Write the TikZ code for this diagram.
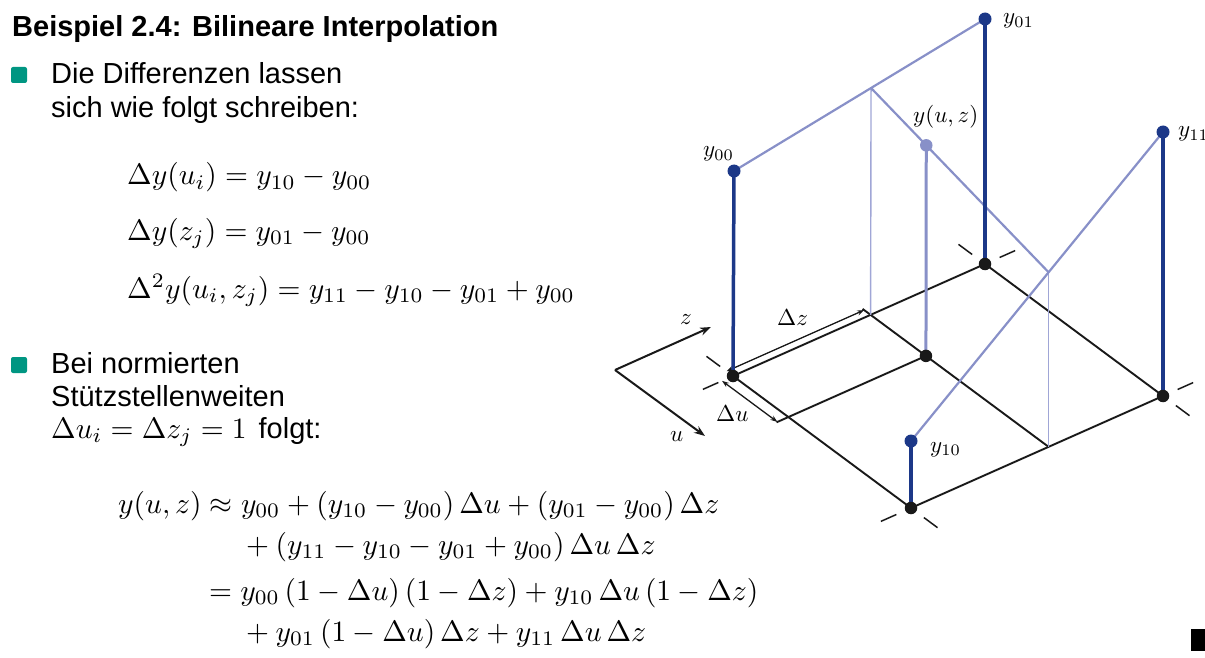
\documentclass[tikz,border=0pt]{standalone}
\usepackage{graphicx}
\usepackage[no-math]{fontspec}
\newfontfamily\arial{Liberation Sans}
\usetikzlibrary{arrows.meta,calc}
\definecolor{dkblue}{RGB}{28,56,136}
\definecolor{ltblue}{RGB}{136,144,200}
\definecolor{thinblue}{RGB}{160,166,214}
\definecolor{kitgreen}{RGB}{0,150,130}
\newcommand\bodyfs{\fontsize{29}{34}\selectfont}
\newcommand\eqmath[1]{{\fontsize{10}{12}\selectfont\scalebox{2.95}{$#1$}}}
\newcommand\lblmath[1]{{\fontsize{10}{12}\selectfont\scalebox{2.3}{$#1$}}}
\begin{document}
\begin{tikzpicture}[x=1pt,y=-1pt,
  txt/.style={inner sep=0pt, anchor=base west, font=\arial\bodyfs},
  ttl/.style={inner sep=0pt, anchor=base west, font=\arial\bfseries\bodyfs},
  eqn/.style={inner sep=0pt, anchor=base west},
  lbl/.style={inner sep=0pt, anchor=base west},
  bul/.style={fill=kitgreen, rounded corners=2pt, minimum size=16pt, inner sep=0pt},
  bdot/.style={circle, fill=dkblue, minimum size=13pt, inner sep=0pt},
  kdot/.style={circle, fill=black!90, minimum size=12.5pt, inner sep=0pt},
  ldot/.style={circle, fill=ltblue, minimum size=12.5pt, inner sep=0pt},
  grid/.style={line width=1.9pt, black!90},
  stem/.style={line width=3.5pt, dkblue},
  light/.style={line width=2.2pt, ltblue},
  thin/.style={line width=1.4pt, thinblue},
  yuzstem/.style={line width=3pt, ltblue},
  ext/.style={line width=1.5pt, black!90, dash pattern=on 5pt off 11pt on 17pt off 60pt},
  dim/.style={line width=1.3pt, black!90, {Stealth[length=7pt,width=5pt]}-{Stealth[length=7pt,width=5pt]}},
  axis/.style={line width=2pt, black!90, -{Stealth[length=11pt,width=8pt]}}
]
\useasboundingbox (0,0) rectangle (1205,658);

% ---------- text ----------
\node[ttl] (title) at (12,37) {Beispiel 2.4: Bilineare Interpolation};
\node[bul] (b1) at (19,75) {};
\node[txt] (t1a) at (51,84) {Die Differenzen lassen};
\node[txt] (t1b) at (51,118) {sich wie folgt schreiben:};
\node[eqn] (e1) at (127,185) {\eqmath{\Delta y(u_i) = y_{10} - y_{00}}};
\node[eqn] (e2) at (127,240) {\eqmath{\Delta y(z_j) = y_{01} - y_{00}}};
\node[eqn] (e3) at (127,298) {\eqmath{\Delta^2 y(u_i, z_j) = y_{11} - y_{10} - y_{01} + y_{00}}};
\node[bul] (b2) at (19,365) {};
\node[txt] (t2a) at (51,373) {Bei normierten};
\node[txt] (t2b) at (51,406) {Stützstellenweiten};
\node[txt] (t2c) at (51,438) {\eqmath{\Delta u_i = \Delta z_j = 1}\hspace{12pt}folgt:};
\node[eqn] (f1) at (118,513) {\eqmath{y(u,z) \approx y_{00} + (y_{10} - y_{00})\,\Delta u + (y_{01} - y_{00})\,\Delta z}};
\node[eqn] (f2) at (246,554) {\eqmath{+\:(y_{11} - y_{10} - y_{01} + y_{00})\,\Delta u\,\Delta z}};
\node[eqn] (f3) at (209,600) {\eqmath{= y_{00}\,(1-\Delta u)\,(1-\Delta z) + y_{10}\,\Delta u\,(1-\Delta z)}};
\node[eqn] (f4) at (246,641) {\eqmath{+\:y_{01}\,(1-\Delta u)\,\Delta z + y_{11}\,\Delta u\,\Delta z}};
\node[fill=black, minimum width=14pt, minimum height=22pt, inner sep=0pt] (endmark) at (1198,640) {};

% ---------- geometry ----------
\coordinate (P00) at (733,376);
\coordinate (P01) at (985,264);
\coordinate (P11) at (1163,396);
\coordinate (P10) at (911,508);
\coordinate (Y00) at (734,171);
\coordinate (Y01) at (985,19);
\coordinate (Y11) at (1163,132);
\coordinate (Y10) at (911,441);
\coordinate (Pz) at ($(P00)!0.546!(P01)$);
\coordinate (Pzb) at ($(P10)!0.546!(P11)$);
\coordinate (A) at ($(Y00)!0.546!(Y01)$);
\coordinate (B) at ($(Y10)!0.546!(Y11)$);
\coordinate (Yuz) at ($(A)!0.311!(B)$);
\coordinate (M) at ($(Pz)!0.311!(Pzb)$);
\coordinate (Pu) at ($(P00)!0.311!(P10)$);

% base grid
\draw[grid] (P00) -- (P01) -- (P11) -- (P10) -- cycle;
\draw[grid] ($(Pz)!-0.045!(Pzb)$) -- (Pzb);
\draw[grid] (M) -- ($(M)!1.086!(Pu)$);
% dashed extensions at corners
\draw[ext] (P00) -- ($(P00)!-33pt!(P10)$);
\draw[ext] (P00) -- ($(P00)!-33pt!(P01)$);
\draw[ext] (P01) -- ($(P01)!-33pt!(P11)$);
\draw[ext] (P01) -- ($(P01)!-33pt!(P00)$);
\draw[ext] (P11) -- ($(P11)!-33pt!(P10)$);
\draw[ext] (P11) -- ($(P11)!-33pt!(P01)$);
\draw[ext] (P10) -- ($(P10)!-33pt!(P00)$);
\draw[ext] (P10) -- ($(P10)!-33pt!(P11)$);
% dimension arrows
\draw[dim] ($(P00)!-8pt!(P10)$) -- ($(Pz)!-8pt!(Pzb)$);
\draw[dim] ($(P00)!-12pt!(P01)$) -- ($(Pu)!-12pt!(M)$);
\node[lbl] (ldz) at (777,325) {\lblmath{\Delta z}};
\node[lbl] (ldu) at (716,421) {\lblmath{\Delta u}};
% axes
\coordinate (O) at (615,370);
\coordinate (zt) at (711,327);
\coordinate (ut) at (705,436);
\draw[axis] (O) -- (zt);
\draw[axis] (O) -- (ut);
\node[lbl] (lz) at (680,324) {\lblmath{z}};
\node[lbl] (lu) at (670,441) {\lblmath{u}};

% interpolation lines
\draw[thin] (A) -- (Pz);
\draw[thin] (B) -- (Pzb);
\draw[light] (Y00) -- (A) -- (Y01);
\draw[light] (Y10) -- (B) -- (Y11);
\draw[light] (A) -- (B);
\draw[yuzstem] (Yuz) -- (M);
\draw[stem] (Y00) -- (P00);
\draw[stem] (Y01) -- (P01);
\draw[stem] (Y11) -- (P11);
\draw[stem] (Y10) -- (P10);

% dots
\node[kdot] (d00) at (P00) {};
\node[kdot] (d01) at (P01) {};
\node[kdot] (d11) at (P11) {};
\node[kdot] (d10) at (P10) {};
\node[kdot] (dM) at (M) {};
\node[bdot] (h00) at (Y00) {};
\node[bdot] (h01) at (Y01) {};
\node[bdot] (h11) at (Y11) {};
\node[bdot] (h10) at (Y10) {};
\node[ldot] (huz) at (Yuz) {};

% labels
\node[lbl] (ly01) at (1003,24) {\lblmath{y_{01}}};
\node[lbl] (lyuz) at (913,123) {\lblmath{y(u,z)}};
\node[lbl] (ly00) at (703,157) {\lblmath{y_{00}}};
\node[lbl] (ly11) at (1178,137) {\lblmath{y_{11}}};
\node[lbl] (ly10) at (930,452) {\lblmath{y_{10}}};
\end{tikzpicture}
\end{document}
